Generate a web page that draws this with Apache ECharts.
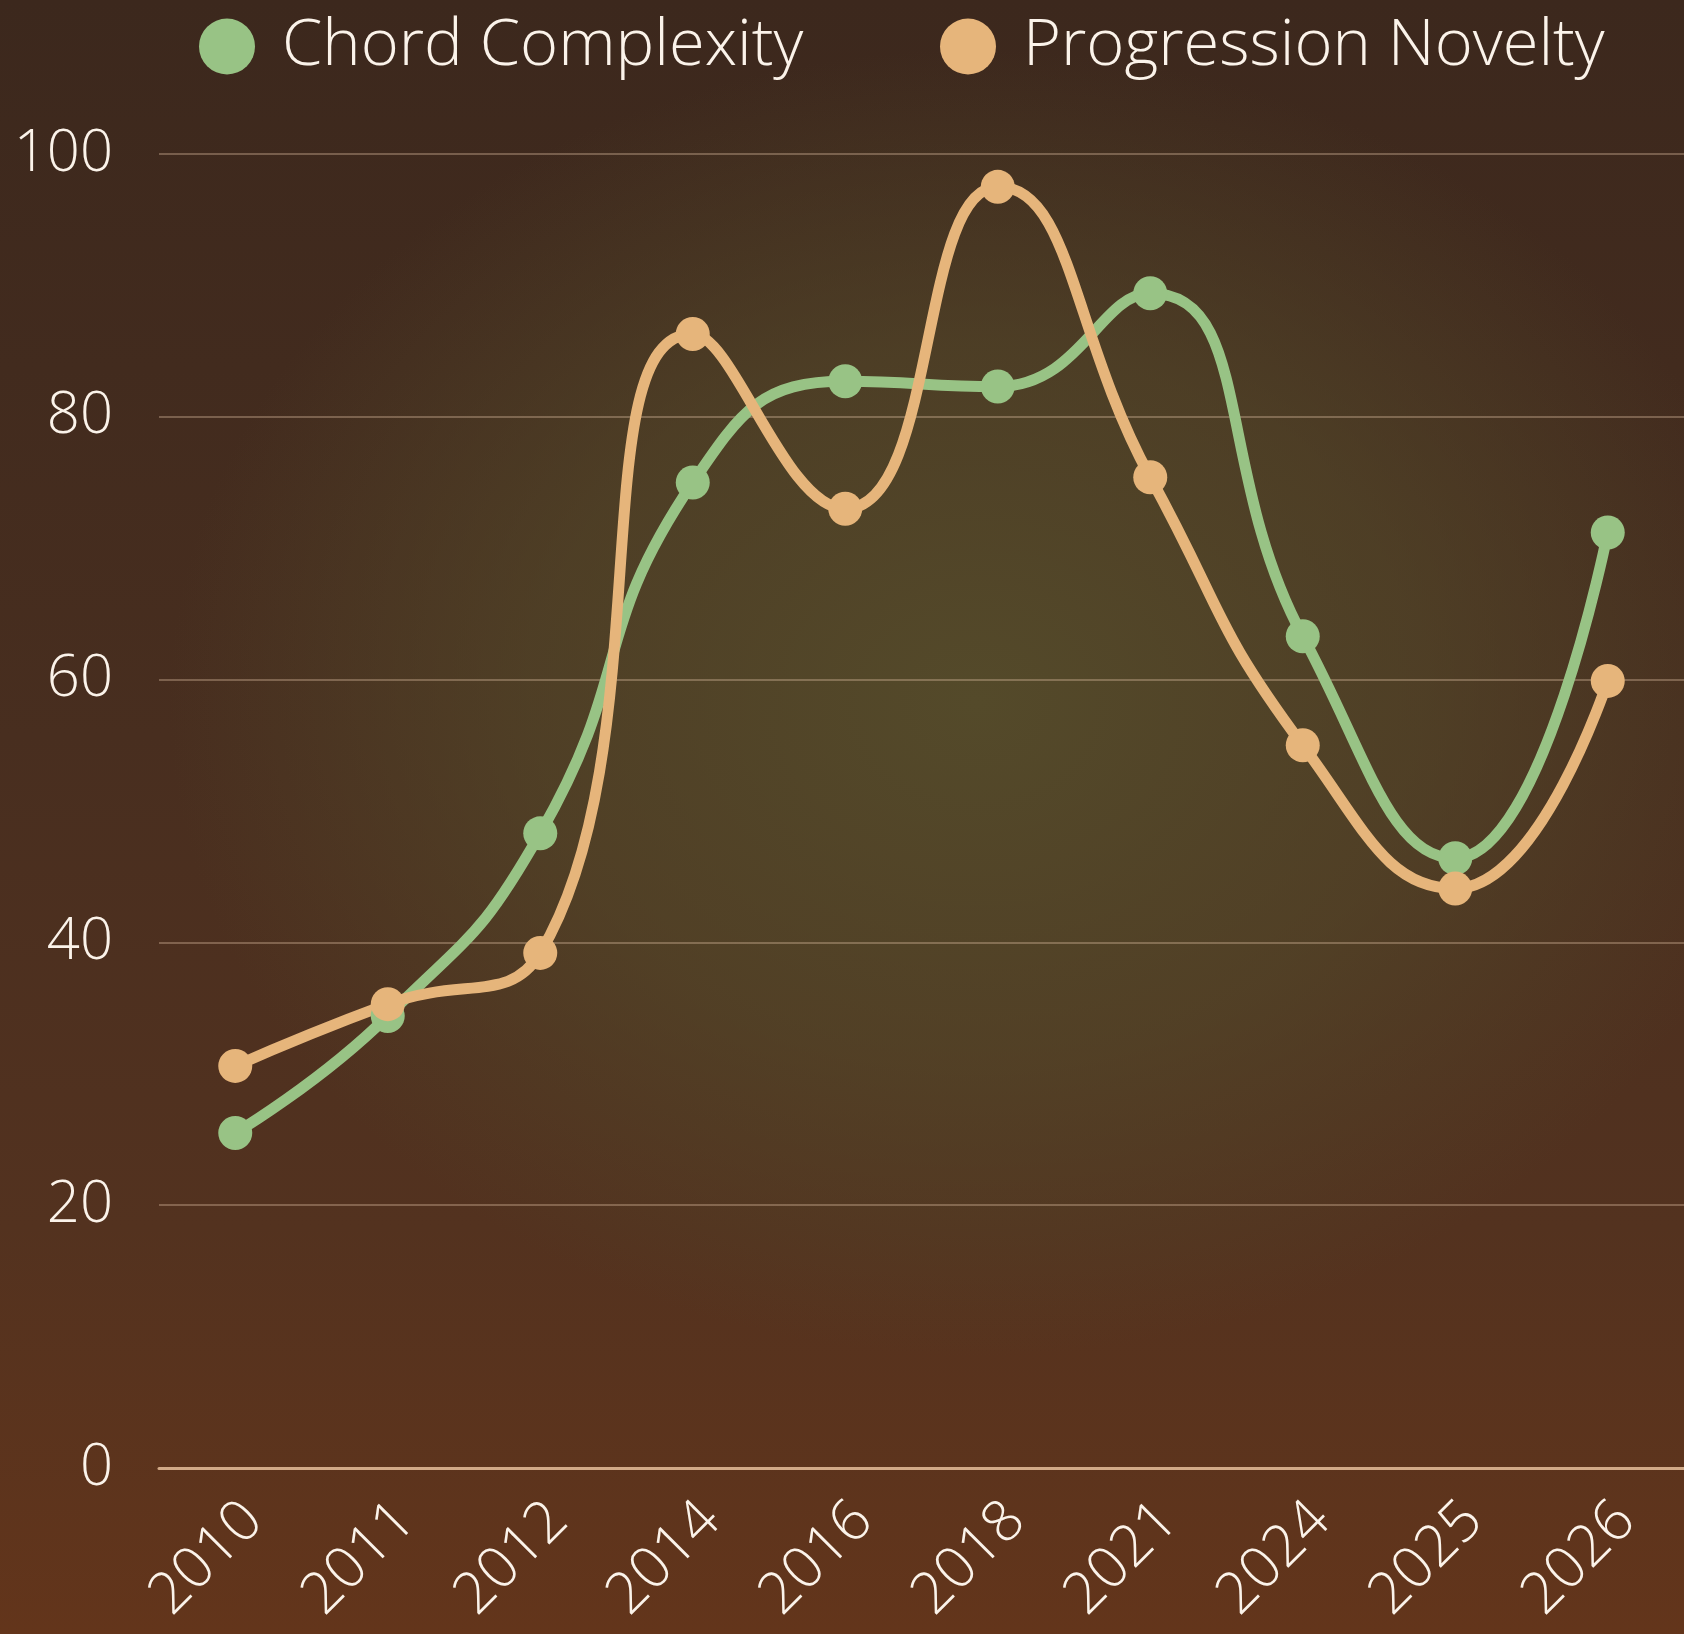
<!DOCTYPE html>
<html>
<head>
<meta charset="utf-8">
<title>Chord Complexity vs Progression Novelty</title>
<script src="https://cdn.jsdelivr.net/npm/echarts@6/dist/echarts.min.js"></script>
<style>
    html, body {
        margin: 0;
        padding: 0;
        width: 1684px;
        height: 1634px;
        overflow: hidden;
    }
    body {
        background:
            radial-gradient(ellipse 48% 40% at 58% 43%, rgba(84,74,42,1) 0%, rgba(84,74,42,0.6) 55%, rgba(84,74,42,0) 100%),
            linear-gradient(180deg, #3c281d 0%, #482e1f 45%, #53321f 75%, #63351b 100%);
    }
    #main {
        width: 1684px;
        height: 1634px;
    }
</style>
</head>
<body>
<div id="main"></div>
<script type="text/javascript">
    // 数据
    var years = ['2010', '2011', '2012', '2014', '2016', '2018', '2021', '2024', '2025', '2026'];
    var chordComplexity = [25.5, 34.4, 48.3, 75.0, 82.7, 82.3, 89.4, 63.3, 46.4, 71.2];
    var progressionNovelty = [30.6, 35.3, 39.2, 86.3, 73.0, 97.5, 75.4, 55.0, 44.1, 59.9];
    var yTicks = [0, 20, 40, 60, 80, 100];

    var FONT = '"Open Sans", Lato, sans-serif';
    var GREEN = '#98c385';
    var ORANGE = '#e6b57b';

    var myChart = echarts.init(document.getElementById('main'), null, {renderer: 'canvas'});

    var legendText = {
        color: '#fbf3ea',
        fontFamily: FONT,
        fontWeight: 300,
        fontSize: 65,
        padding: [0, 0, 0, 22]
    };

    var option = {
        backgroundColor: 'transparent',
        animation: false,
        legend: [
            {
                left: 194,
                top: 9,
                itemWidth: 56,
                itemHeight: 56,
                icon: 'circle',
                textStyle: legendText,
                data: ['Chord Complexity']
            },
            {
                left: 935,
                top: 9,
                itemWidth: 56,
                itemHeight: 56,
                icon: 'circle',
                textStyle: legendText,
                data: ['Progression Novelty']
            }
        ],
        grid: {
            left: 159,
            right: 0,
            top: 154,
            bottom: 166,
            containLabel: false
        },
        xAxis: {
            type: 'category',
            data: years,
            boundaryGap: true,
            axisTick: {show: false},
            axisLine: {show: true, lineStyle: {color: '#d2aa88', width: 3}},
            axisLabel: {
                rotate: 45,
                margin: 62,
                padding: [0, -26, 0, 0],
                color: '#fbf3ea',
                fontFamily: FONT,
                fontWeight: 300,
                fontSize: 58
            }
        },
        yAxis: {
            type: 'value',
            min: yTicks[0],
            max: yTicks[yTicks.length - 1],
            interval: yTicks[1] - yTicks[0],
            axisLine: {show: false},
            axisTick: {show: false},
            splitLine: {lineStyle: {color: 'rgba(225,195,165,0.35)', width: 2}},
            axisLabel: {
                margin: 46,
                color: '#fbf3ea',
                fontFamily: FONT,
                fontWeight: 300,
                fontSize: 58
            }
        },
        series: [
            {
                name: 'Chord Complexity',
                type: 'line',
                data: chordComplexity,
                smooth: 0.5,
                symbol: 'circle',
                symbolSize: 34,
                itemStyle: {color: GREEN},
                lineStyle: {color: GREEN, width: 11}
            },
            {
                name: 'Progression Novelty',
                type: 'line',
                data: progressionNovelty,
                smooth: 0.5,
                symbol: 'circle',
                symbolSize: 34,
                itemStyle: {color: ORANGE},
                lineStyle: {color: ORANGE, width: 11}
            }
        ]
    };

    myChart.setOption(option);
</script>
</body>
</html>
